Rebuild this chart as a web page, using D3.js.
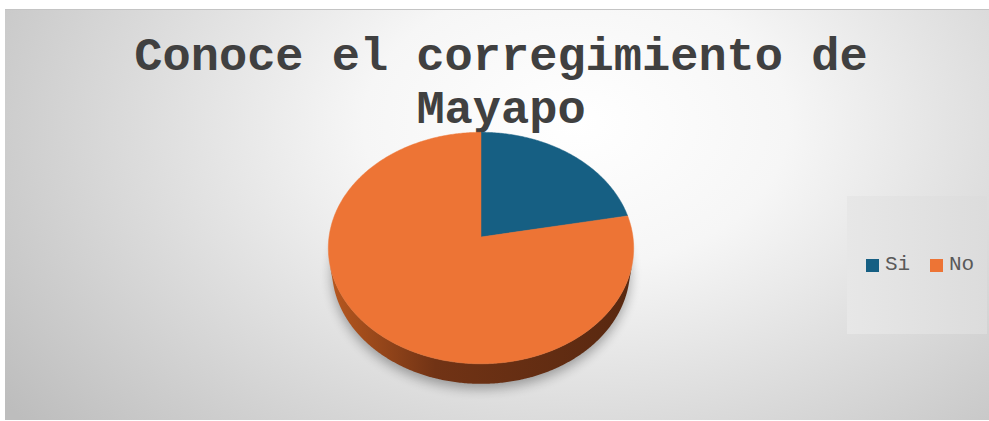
<!DOCTYPE html>
<html>
<head>
<meta charset="utf-8">
<script src="https://cdn.jsdelivr.net/npm/d3@7"></script>
<style>
  html, body { margin: 0; padding: 0; background: #fff; }
  svg { display: block; }
</style>
</head>
<body>
<div id="chart"></div>
<script>
// Data
const categories = ["Si", "No"];
const values = [22, 78];
const colors = ["#165f83", "#ed7435"];
const titleLines = ["Conoce el corregimiento de", "Mayapo"];

const width = 989;
const height = 421;

const svg = d3.select("#chart")
    .append("svg")
    .attr("width", width)
    .attr("height", height);

const defs = svg.append("defs");

// chart area background (radial grey to white)
const bg = defs.append("radialGradient")
    .attr("id", "bg")
    .attr("cx", "58%").attr("cy", "28%").attr("r", "72%")
    .attr("gradientTransform", "translate(0.58,0.28) scale(1,1.6) translate(-0.58,-0.28)");
bg.append("stop").attr("offset", "0%").attr("stop-color", "#ffffff");
bg.append("stop").attr("offset", "30%").attr("stop-color", "#f6f6f6");
bg.append("stop").attr("offset", "100%").attr("stop-color", "#bdbdbd");

svg.append("rect")
    .attr("x", 5).attr("y", 9)
    .attr("width", width - 5).attr("height", 411)
    .attr("fill", "url(#bg)");
svg.append("line")
    .attr("x1", 5).attr("x2", width)
    .attr("y1", 9.5).attr("y2", 9.5)
    .attr("stroke", "#c4c4c4");

// Title
svg.append("text")
    .attr("x", 501)
    .attr("text-anchor", "middle")
    .attr("font-family", "'Courier New', 'Liberation Mono', monospace")
    .attr("font-weight", "bold")
    .attr("font-size", 47)
    .attr("fill", "#404040")
    .selectAll("tspan")
    .data(titleLines)
    .join("tspan")
    .attr("x", 501)
    .attr("y", (d, i) => 70 + i * 53)
    .text(d => d);

// 3D pie: simple perspective projection of a tilted disc
const cx = 481, cy = 237;
const f = 1044, D = 6.87;
const tilt = 49 * Math.PI / 180;
const s = Math.sin(tilt), c = Math.cos(tilt);
const thick = 0.217;

// angle a: 0 at 12 o'clock, clockwise (same as d3.pie)
function project(a, r, hgt) {
  const x = r * Math.sin(a), z = -r * Math.cos(a);
  const depth = D - hgt * s - z * c;
  return [cx + f * x / depth, cy + f * (z * s - hgt * c) / depth];
}

function arcPoints(a0, a1, hgt) {
  const n = Math.max(2, Math.ceil((a1 - a0) / 0.01));
  return d3.range(n + 1).map(i => project(a0 + (a1 - a0) * i / n, 1, hgt));
}

const line = d3.line();

const pie = d3.pie().sort(null).value(d => d)(values);

// wall visible where outward normal faces the camera
const cosLimit = -1 / (D * c);
const visLo = Math.acos(cosLimit);
const visHi = 2 * Math.PI - visLo;

const wallGrad = defs.append("linearGradient")
    .attr("id", "wall")
    .attr("gradientUnits", "userSpaceOnUse")
    .attr("x1", cx - 152).attr("x2", cx + 152)
    .attr("y1", 0).attr("y2", 0);
wallGrad.append("stop").attr("offset", "0%").attr("stop-color", "#b8581f");
wallGrad.append("stop").attr("offset", "35%").attr("stop-color", "#713315");
wallGrad.append("stop").attr("offset", "100%").attr("stop-color", "#582810");

// soft shadow under the pie
const blur = defs.append("filter").attr("id", "blur")
    .attr("x", "-20%").attr("y", "-20%").attr("width", "140%").attr("height", "140%");
blur.append("feGaussianBlur").attr("stdDeviation", 6);

const outline = arcPoints(0, 2 * Math.PI, -thick);
svg.append("path")
    .attr("d", line(outline.map(p => [p[0], p[1] + 5])) + "Z")
    .attr("fill", "#000")
    .attr("opacity", 0.32)
    .attr("filter", "url(#blur)");

const pieG = svg.append("g");

// side walls
pie.forEach((d, i) => {
  const a0 = Math.max(d.startAngle, visLo);
  const a1 = Math.min(d.endAngle, visHi);
  if (a1 <= a0) return;
  const top = arcPoints(a0, a1, 0);
  const bottom = arcPoints(a0, a1, -thick).reverse();
  pieG.append("path")
      .attr("d", line(top.concat(bottom)) + "Z")
      .attr("fill", i === 1 ? "url(#wall)" : d3.color(colors[i]).darker(1.2));
});

// top faces
pie.forEach((d, i) => {
  const pts = [[cx, cy]].concat(arcPoints(d.startAngle, d.endAngle, 0));
  pieG.append("path")
      .attr("d", line(pts) + "Z")
      .attr("fill", colors[i])
      .attr("stroke", colors[i])
      .attr("stroke-width", 0.5);
});

// Legend
const legendBox = defs.append("linearGradient").attr("id", "legbox");
legendBox.append("stop").attr("offset", "0%").attr("stop-color", "#e7e7e7");
legendBox.append("stop").attr("offset", "100%").attr("stop-color", "#dcdcdc");

svg.append("rect")
    .attr("x", 847).attr("y", 196)
    .attr("width", 140).attr("height", 138)
    .attr("fill", "url(#legbox)");

const legendX = d3.scaleOrdinal().domain(categories).range([866, 930]);

const legend = svg.append("g")
    .selectAll("g")
    .data(categories)
    .join("g")
    .attr("transform", d => `translate(${legendX(d)},259)`);

legend.append("rect")
    .attr("width", 13).attr("height", 13)
    .attr("fill", (d, i) => colors[i]);

legend.append("text")
    .attr("x", 19).attr("y", 11)
    .attr("font-family", "'Courier New', 'Liberation Mono', monospace")
    .attr("font-size", 21)
    .attr("fill", "#595959")
    .text(d => d);
</script>
</body>
</html>
